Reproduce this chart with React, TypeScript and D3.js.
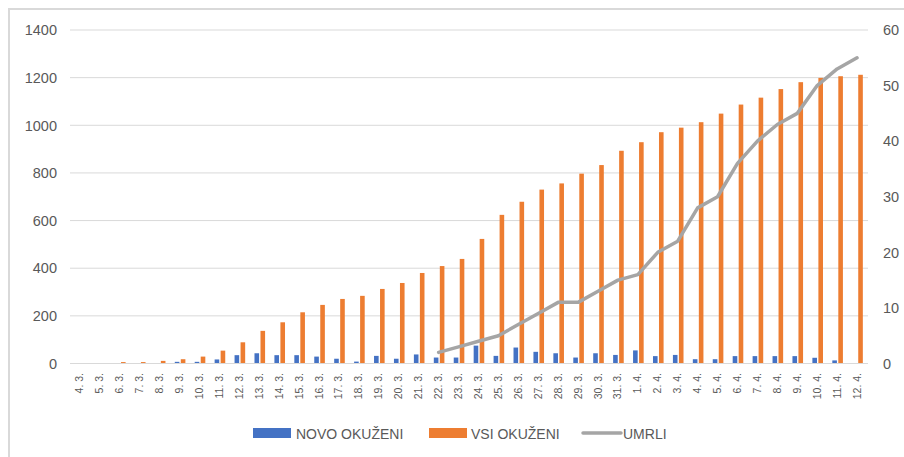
import React from 'react'
import * as d3 from 'd3'

const dates = ['4. 3.', '5. 3.', '6. 3.', '7. 3.', '8. 3.', '9. 3.', '10. 3.', '11. 3.', '12. 3.', '13. 3.',
  '14. 3.', '15. 3.', '16. 3.', '17. 3.', '18. 3.', '19. 3.', '20. 3.', '21. 3.', '22. 3.', '23. 3.',
  '24. 3.', '25. 3.', '26. 3.', '27. 3.', '28. 3.', '29. 3.', '30. 3.', '31. 3.', '1. 4.', '2. 4.',
  '3. 4.', '4. 4.', '5. 4.', '6. 4.', '7. 4.', '8. 4.', '9. 4.', '10. 4.', '11. 4.', '12. 4.']

const novoOkuzeni = [0, 0, 0, 0, 0, 7, 7, 17, 35, 43, 35, 35, 29, 20, 8, 32, 20, 38, 25, 25,
  75, 32, 67, 49, 43, 25, 43, 36, 55, 31, 36, 18, 18, 31, 31, 31, 31, 24, 13, 0]

const vsiOkuzeni = [1, 2, 6, 6, 11, 18, 29, 54, 89, 137, 173, 215, 246, 271, 284, 313, 338, 380, 409, 439,
  523, 624, 679, 730, 756, 797, 833, 893, 929, 971, 990, 1013, 1049, 1087, 1116, 1152, 1181, 1199, 1206, 1212]

const umrli: (number | null)[] = [null, null, null, null, null, null, null, null, null, null,
  null, null, null, null, null, null, null, null, 2, 3, 4, 5, 7, 9, 11, 11, 13, 15, 16, 20,
  22, 28, 30, 36, 40, 43, 45, 50, 53, 55]

const leftTicks = [0, 200, 400, 600, 800, 1000, 1200, 1400]
const rightTicks = [0, 10, 20, 30, 40, 50, 60]

const BLUE = '#4472c4'
const ORANGE = '#ed7d31'
const GRAY = '#a5a5a5'
const TEXT = '#595959'

export default function App() {
  const W = 904, H = 457
  const x = d3.scaleBand().domain(dates).range([70, 867])
  const yL = d3.scaleLinear().domain([0, 1400]).range([363.5, 30])
  const yR = d3.scaleLinear().domain([0, 60]).range([363.5, 30])
  const bw = 4.6
  const cx = (d: string) => (x(d) as number) + x.bandwidth() / 2

  const line = d3.line<number | null>()
    .defined(d => d !== null)
    .x((d, i) => cx(dates[i]))
    .y(d => yR(d as number))

  const font = 'Liberation Sans, Arial, sans-serif'

  return (
    <svg width={W} height={H} style={{ position: 'absolute', left: 0, top: 0, background: '#fff' }} fontFamily={font}>
      <rect x={9} y={9} width={W + 10} height={H + 10} fill="#fff" stroke="#d9d9d9" strokeWidth={2} />
      {/* grid */}
      {leftTicks.map(t => (
        <g key={t}>
          <line x1={70} x2={868} y1={yL(t)} y2={yL(t)} stroke="#d9d9d9" strokeWidth={1} />
          <text x={57} y={yL(t)} dy="0.36em" textAnchor="end" fontSize={14.5} fill={TEXT}>{t}</text>
        </g>
      ))}
      {rightTicks.map(t => (
        <text key={t} x={883} y={yR(t)} dy="0.36em" fontSize={14.5} fill={TEXT}>{t}</text>
      ))}
      {/* bars */}
      {dates.map((d, i) => (
        <g key={d}>
          <rect x={cx(d) - 4.8} y={yL(novoOkuzeni[i])} width={bw} height={yL(0) - yL(novoOkuzeni[i])} fill={BLUE} />
          <rect x={cx(d) + 1.2} y={yL(vsiOkuzeni[i])} width={bw} height={yL(0) - yL(vsiOkuzeni[i])} fill={ORANGE} />
        </g>
      ))}
      <line x1={70} x2={868} y1={yL(0)} y2={yL(0)} stroke="#d9d9d9" strokeWidth={1} />
      <path d={line(umrli) || ''} fill="none" stroke={GRAY} strokeWidth={3.5} strokeLinejoin="round" strokeLinecap="round" />
      {/* x labels */}
      {dates.map(d => (
        <text key={d} transform={`translate(${cx(d) + 3.5},373) rotate(-90)`} textAnchor="end" fontSize={10.5} fill={TEXT}>{d}</text>
      ))}
      {/* legend */}
      <rect x={253} y={428} width={38} height={10} fill={BLUE} />
      <text x={296} y={438.5} fontSize={14} fill={TEXT}>NOVO OKUŽENI</text>
      <rect x={429} y={428} width={38} height={10} fill={ORANGE} />
      <text x={471} y={438.5} fontSize={14} fill={TEXT}>VSI OKUŽENI</text>
      <line x1={583} x2={621} y1={433} y2={433} stroke={GRAY} strokeWidth={3.5} strokeLinecap="round" />
      <text x={623} y={438.5} fontSize={14} fill={TEXT}>UMRLI</text>
    </svg>
  )
}
